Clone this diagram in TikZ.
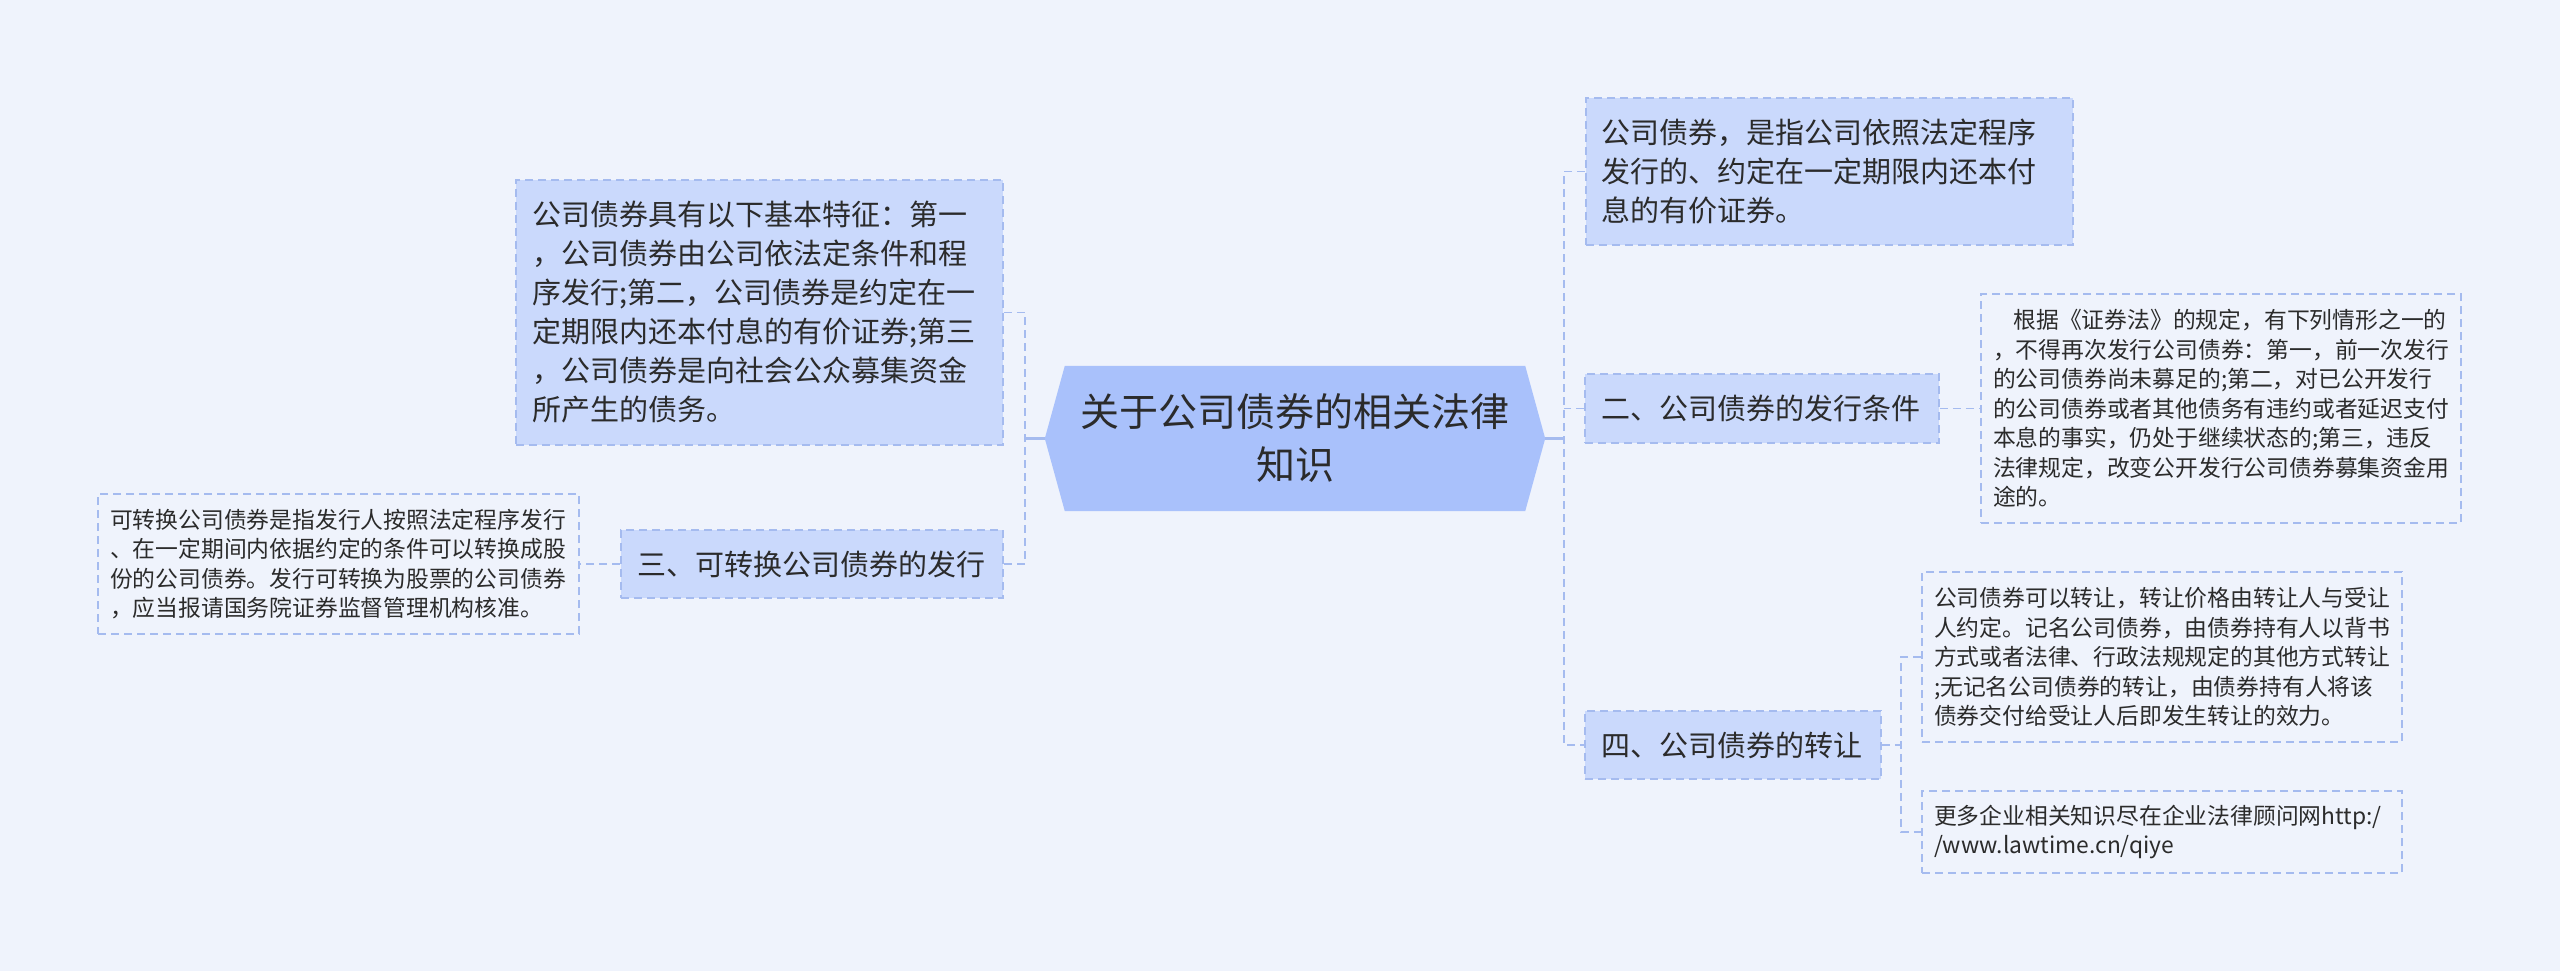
\documentclass[tikz,border=0pt]{standalone}
\usepackage{fontspec}
\newfontfamily\cjk{Noto Sans CJK SC}
\pgfdeclarelayer{background}
\pgfsetlayers{background,main}
\definecolor{bgc}{HTML}{EFF3FC}
\definecolor{fillmid}{HTML}{CAD9FC}
\definecolor{fillroot}{HTML}{A9C1FB}
\definecolor{linec}{HTML}{A5BBEF}
\definecolor{txt}{HTML}{2B2B2B}
\begin{document}
\begin{tikzpicture}[x=1pt,y=-1pt,
  dashline/.style={draw=linec, line width=1.6pt, dash pattern=on 8pt off 5pt},
  midnode/.style={dashline, fill=fillmid, inner xsep=16pt, inner ysep=0pt, align=left, text=txt,
    font=\cjk\fontsize{29}{39}\selectfont},
  leafnode/.style={dashline, fill=none, inner xsep=12pt, inner ysep=0pt, align=left, text=txt,
    font=\cjk\fontsize{22.8}{29.5}\selectfont},
  rootnode/.style={inner sep=0pt, align=center, text=txt, font=\cjk\fontsize{39}{53}\selectfont},
  conn/.style={dashline},
  rootconn/.style={draw=linec, line width=3pt}
]
\useasboundingbox (0,0) rectangle (2560,971);

% root
\node[rootnode, minimum width=500pt, minimum height=145pt] (root) at (1295,438.5)
  {关于公司债券的相关法律\\知识};

% left side
\node[midnode, text width=455pt, minimum height=265pt] (A) at (759.5,312.5)
  {公司债券具有以下基本特征：第一\\，公司债券由公司依法定条件和程\\序发行;第二，公司债券是约定在一\\定期限内还本付息的有价证券;第三\\，公司债券是向社会公众募集资金\\所产生的债务。};
\node[midnode, text width=350pt, minimum height=68pt] (B) at (812,564)
  {三、可转换公司债券的发行};
\node[leafnode, text width=457pt, minimum height=140pt, inner xsep=12pt] (Bleaf) at (338.5,564)
  {可转换公司债券是指发行人按照法定程序发行\\、在一定期间内依据约定的条件可以转换成股\\份的公司债券。发行可转换为股票的公司债券\\，应当报请国务院证券监督管理机构核准。};

% right side
\node[midnode, text width=457pt, minimum height=147pt, inner xsep=15pt] (R1) at (1829.5,171.5)
  {公司债券，是指公司依照法定程序\\发行的、约定在一定期限内还本付\\息的有价证券。};
\node[midnode, text width=322pt, minimum height=69pt] (R2) at (1762,408.5)
  {二、公司债券的发行条件};
\node[leafnode, text width=456pt, minimum height=229pt] (R2leaf) at (2221,408.5)
  {\hspace*{0.9em}根据《证券法》的规定，有下列情形之一的\\，不得再次发行公司债券：第一，前一次发行\\的公司债券尚未募足的;第二，对已公开发行\\的公司债券或者其他债务有违约或者延迟支付\\本息的事实，仍处于继续状态的;第三，违反\\法律规定，改变公开发行公司债券募集资金用\\途的。};
\node[midnode, text width=264pt, minimum height=68pt] (R4) at (1733,745)
  {四、公司债券的转让};
\node[leafnode, text width=456pt, minimum height=170pt] (R4leafA) at (2162,657)
  {公司债券可以转让，转让价格由转让人与受让\\人约定。记名公司债券，由债券持有人以背书\\方式或者法律、行政法规规定的其他方式转让\\;无记名公司债券的转让，由债券持有人将该\\债券交付给受让人后即发生转让的效力。};
\node[leafnode, text width=456pt, minimum height=82pt] (R4leafB) at (2162,832)
  {更多企业相关知识尽在企业法律顾问网http:/\\/www.lawtime.cn/qiye};

% background and root shape
\begin{pgfonlayer}{background}
\fill[bgc] (0,0) rectangle (2560,971);
\fill[fillroot] (root.west) -- ([xshift=20pt]root.north west) -- ([xshift=-20pt]root.north east)
  -- (root.east) -- ([xshift=-20pt]root.south east) -- ([xshift=20pt]root.south west) -- cycle;
\end{pgfonlayer}

% junctions
\coordinate (jl) at (1025,438.5);
\coordinate (jr) at (1564,438.5);
\coordinate (j4) at (1901,745);

% connectors
\draw[rootconn] (root.west) -- (jl);
\draw[rootconn] (root.east) -- (jr);
\draw[conn] (A.east) -| (jl) |- (B.east);
\draw[conn] (B.west) -- (Bleaf.east);
\draw[conn] (R1.west) -| (jr) |- (R4.west);
\draw[conn] (R2.west) -- (R2.west -| jr);
\draw[conn] (R2.east) -- (R2leaf.west);
\draw[conn] (R4.east) -- (j4);
\draw[conn] (R4leafA.west) -| (j4) |- (R4leafB.west);
\end{tikzpicture}
\end{document}
